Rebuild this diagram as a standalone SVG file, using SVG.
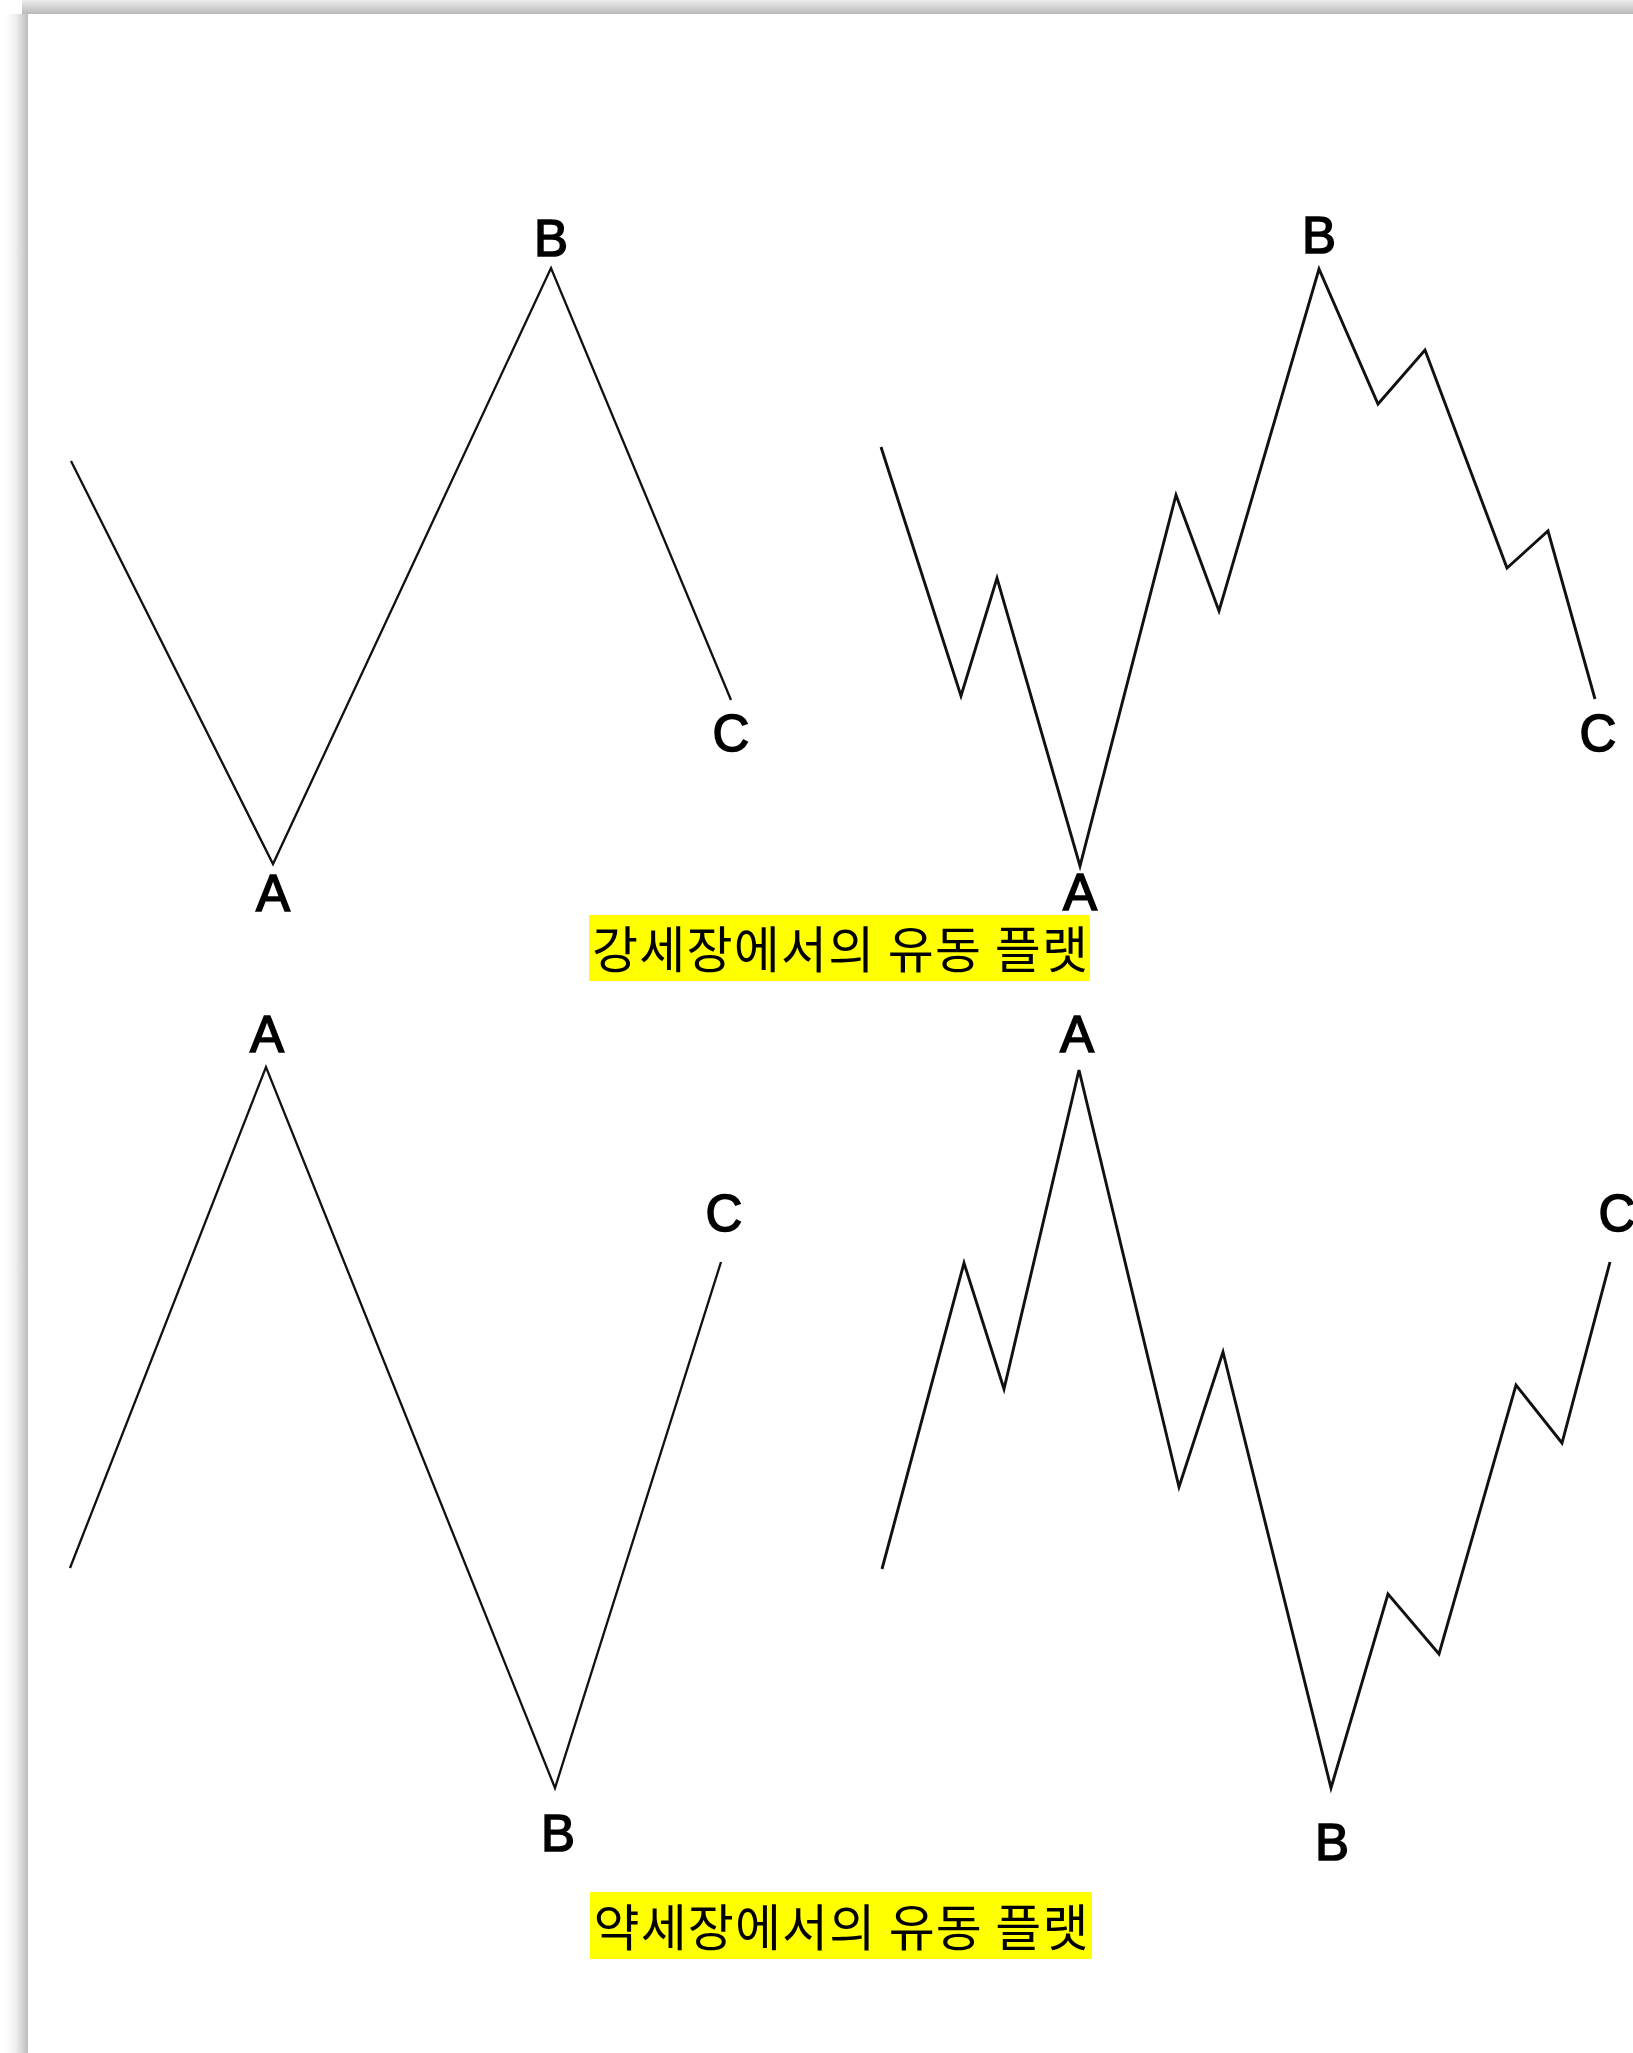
<svg xmlns="http://www.w3.org/2000/svg" width="1633" height="2053" viewBox="0 0 1633 2053">
<defs>
<linearGradient id="gl" x1="0" y1="0" x2="1" y2="0">
<stop offset="0" stop-color="#ffffff"/>
<stop offset="0.45" stop-color="#eeeeee"/>
<stop offset="1" stop-color="#bdbdbd"/>
</linearGradient>
<linearGradient id="gt" x1="0" y1="0" x2="0" y2="1">
<stop offset="0" stop-color="#ececec"/>
<stop offset="1" stop-color="#b9b9b9"/>
</linearGradient>
</defs>
<style>
.w{fill:none;stroke:#111;stroke-width:2.3;stroke-linejoin:miter;stroke-linecap:butt}
.w2{fill:none;stroke:#111;stroke-width:2.9;stroke-linejoin:miter;stroke-linecap:butt}
.lb{font-family:"Liberation Sans",Arial,sans-serif;font-size:51px;fill:#000;stroke:#000;stroke-width:1.6;text-anchor:middle}
.cap{font-family:"Noto Sans CJK KR","Noto Sans",sans-serif;font-size:50px;fill:#000;text-anchor:middle}
.hl{fill:#ffff00}
</style>
<rect x="0" y="0" width="1633" height="2053" fill="#ffffff"/>
<rect x="6" y="14" width="22" height="2039" fill="url(#gl)"/>
<rect x="22" y="0" width="1611" height="14" fill="url(#gt)"/>

<g id="connectors">
<polyline class="w" points="71,461 273,864 551,268 731,700"/>
<polyline class="w2" points="881,447 961,696 997,578 1080,866 1176,495 1219,611 1319,269 1378,404 1425,350 1507,568 1548,531 1595,699"/>
<polyline class="w" points="70,1568 266,1067 555,1788 721,1262"/>
<polyline class="w2" points="882,1569 964,1263 1004,1389 1079,1070 1179,1487 1223,1352 1331,1788 1388,1594 1439,1654 1516,1385 1562,1443 1610,1262"/>
</g>

<g id="bull-simple">
<text class="lb" x="551" y="256">B</text>
<text class="lb" x="273" y="911">A</text>
<text class="lb" x="731" y="751">C</text>
</g>
<g id="bull-detailed">
<text class="lb" x="1319" y="253">B</text>
<text class="lb" x="1080" y="910">A</text>
<text class="lb" x="1598" y="751">C</text>
</g>
<g id="bull-caption">
<rect class="hl" x="589" y="915" width="501" height="66"/>
<text class="cap" x="840" y="968" textLength="496" lengthAdjust="spacing">강세장에서의 유동 플랫</text>
</g>
<g id="bear-simple">
<text class="lb" x="267" y="1052">A</text>
<text class="lb" x="558" y="1851">B</text>
<text class="lb" x="724" y="1231">C</text>
</g>
<g id="bear-detailed">
<text class="lb" x="1077" y="1052">A</text>
<text class="lb" x="1332" y="1860">B</text>
<text class="lb" x="1617" y="1231">C</text>
</g>
<g id="bear-caption">
<rect class="hl" x="590" y="1892" width="502" height="67"/>
<text class="cap" x="841" y="1946" textLength="495" lengthAdjust="spacing">약세장에서의 유동 플랫</text>
</g>
</svg>
